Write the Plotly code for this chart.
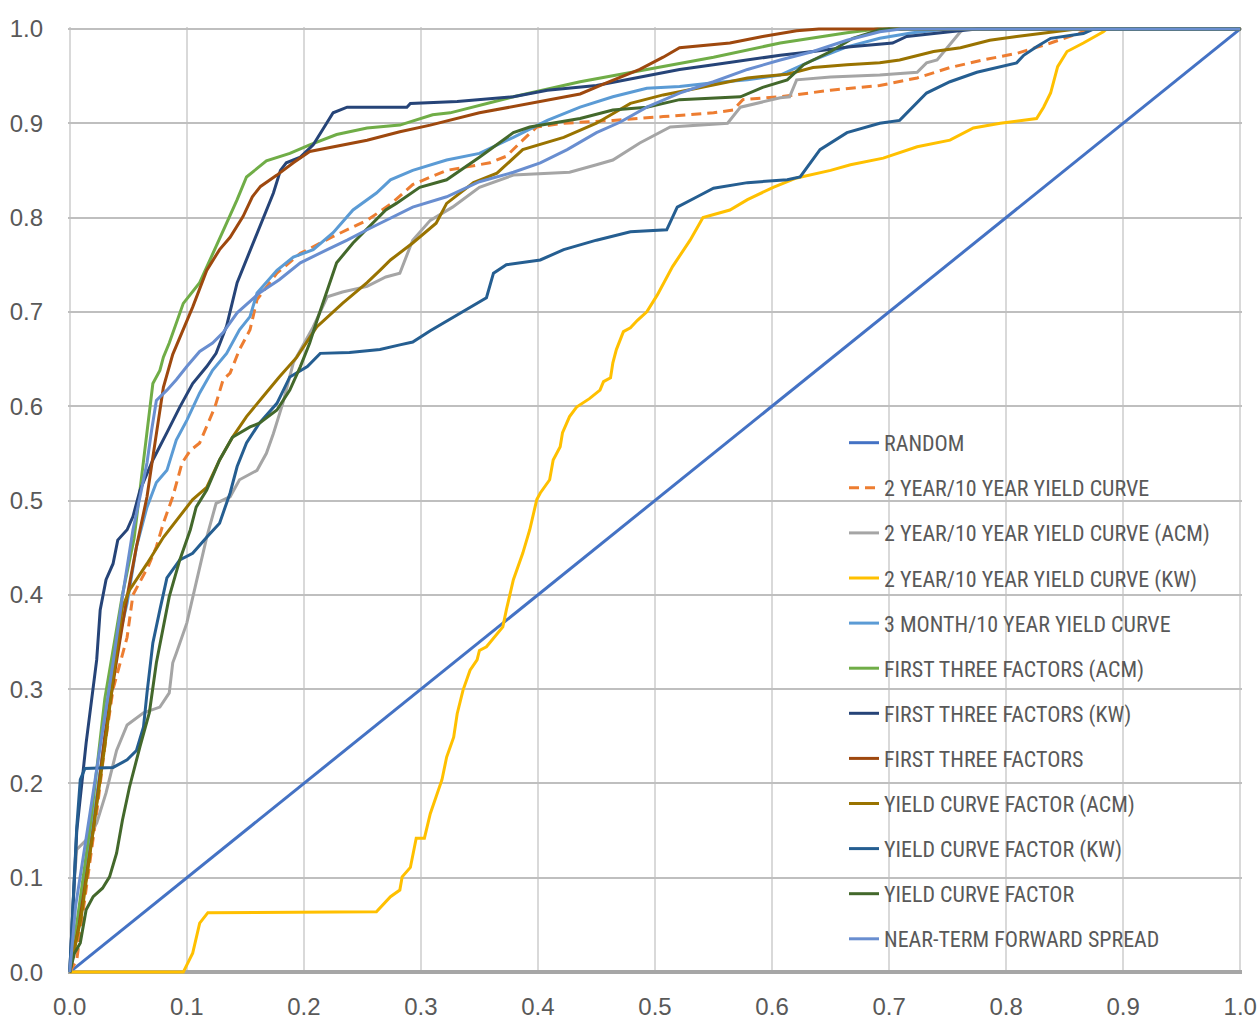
import plotly.graph_objects as go

# ---------------- data (x = false positive rate, y = true positive rate) ----------------
RANDOM = [(0, 0), (1, 1)]

YC_2Y10Y = [(0, 0), (0.006, 0.013), (0.012, 0.07), (0.023, 0.169), (0.030, 0.24), (0.037, 0.30),
            (0.049, 0.355), (0.054, 0.40), (0.067, 0.43), (0.074, 0.451), (0.080, 0.476), (0.088, 0.504),
            (0.096, 0.54), (0.103, 0.553), (0.111, 0.561), (0.117, 0.578), (0.124, 0.599), (0.131, 0.628),
            (0.137, 0.635), (0.145, 0.66), (0.154, 0.681), (0.160, 0.713), (0.177, 0.741), (0.197, 0.762),
            (0.225, 0.78), (0.254, 0.797), (0.275, 0.815), (0.293, 0.835), (0.322, 0.85), (0.359, 0.858),
            (0.373, 0.865), (0.387, 0.882), (0.399, 0.896), (0.422, 0.90), (0.464, 0.903), (0.507, 0.907),
            (0.550, 0.911), (0.567, 0.914), (0.575, 0.925), (0.607, 0.928), (0.650, 0.935), (0.692, 0.94),
            (0.724, 0.948), (0.752, 0.959), (0.780, 0.967), (0.809, 0.974), (0.838, 0.985), (0.866, 0.997),
            (0.875, 1.0), (1.0, 1.0)]

YC_2Y10Y_ACM = [(0, 0), (0.004, 0.10), (0.006, 0.13), (0.014, 0.14), (0.023, 0.158), (0.031, 0.19),
                (0.040, 0.235), (0.049, 0.262), (0.063, 0.275), (0.077, 0.281), (0.085, 0.296), (0.088, 0.328),
                (0.091, 0.338), (0.100, 0.37), (0.108, 0.413), (0.117, 0.461), (0.125, 0.497), (0.137, 0.504),
                (0.145, 0.522), (0.160, 0.532), (0.168, 0.55), (0.174, 0.571), (0.182, 0.603), (0.191, 0.646),
                (0.208, 0.684), (0.220, 0.716), (0.233, 0.721), (0.254, 0.727), (0.270, 0.737), (0.282, 0.741),
                (0.293, 0.776), (0.308, 0.797), (0.327, 0.811), (0.350, 0.832), (0.379, 0.845), (0.427, 0.848),
                (0.450, 0.856), (0.464, 0.861), (0.487, 0.879), (0.513, 0.896), (0.562, 0.90), (0.573, 0.917),
                (0.607, 0.927), (0.615, 0.928), (0.621, 0.946), (0.650, 0.949), (0.692, 0.951), (0.724, 0.954),
                (0.732, 0.964), (0.741, 0.967), (0.761, 0.997), (0.765, 1.0), (1.0, 1.0)]

YC_2Y10Y_KW = [(0, 0), (0.097, 0), (0.105, 0.02), (0.111, 0.052), (0.118, 0.063), (0.262, 0.064),
               (0.274, 0.08), (0.282, 0.087), (0.284, 0.101), (0.291, 0.111), (0.296, 0.142), (0.303, 0.142),
               (0.308, 0.168), (0.313, 0.186), (0.318, 0.204), (0.322, 0.228), (0.328, 0.249), (0.331, 0.274),
               (0.336, 0.299), (0.342, 0.32), (0.348, 0.331), (0.350, 0.341), (0.356, 0.345), (0.370, 0.366),
               (0.373, 0.384), (0.379, 0.416), (0.387, 0.444), (0.393, 0.469), (0.399, 0.501), (0.402, 0.508),
               (0.410, 0.522), (0.413, 0.543), (0.419, 0.557), (0.421, 0.572), (0.427, 0.589), (0.433, 0.599),
               (0.444, 0.608), (0.453, 0.617), (0.456, 0.626), (0.462, 0.63), (0.464, 0.646), (0.467, 0.66),
               (0.473, 0.679), (0.479, 0.683), (0.485, 0.691), (0.493, 0.70), (0.502, 0.718), (0.515, 0.748),
               (0.530, 0.776), (0.541, 0.80), (0.564, 0.808), (0.579, 0.819), (0.601, 0.832), (0.621, 0.842),
               (0.650, 0.85), (0.667, 0.856), (0.695, 0.863), (0.724, 0.875), (0.752, 0.882), (0.772, 0.895),
               (0.795, 0.90), (0.826, 0.905), (0.832, 0.917), (0.838, 0.932), (0.844, 0.96), (0.852, 0.976),
               (0.866, 0.985), (0.883, 0.997), (0.886, 1.0), (1.0, 1.0)]

YC_3M10Y = [(0, 0), (0.010, 0.07), (0.020, 0.16), (0.030, 0.25), (0.037, 0.328), (0.049, 0.391),
            (0.057, 0.451), (0.066, 0.493), (0.074, 0.519), (0.083, 0.532), (0.091, 0.564), (0.100, 0.585),
            (0.111, 0.614), (0.122, 0.638), (0.134, 0.656), (0.145, 0.681), (0.154, 0.695), (0.160, 0.72),
            (0.177, 0.744), (0.191, 0.758), (0.208, 0.766), (0.225, 0.784), (0.242, 0.808), (0.262, 0.826),
            (0.274, 0.84), (0.293, 0.85), (0.322, 0.861), (0.350, 0.868), (0.379, 0.885), (0.408, 0.903),
            (0.436, 0.917), (0.464, 0.928), (0.493, 0.937), (0.521, 0.939), (0.550, 0.943), (0.579, 0.946),
            (0.607, 0.951), (0.635, 0.967), (0.664, 0.981), (0.692, 0.99), (0.720, 0.996), (0.75, 1.0),
            (1.0, 1.0)]

F3_ACM = [(0, 0), (0.007, 0.06), (0.018, 0.16), (0.030, 0.29), (0.045, 0.40), (0.055, 0.46),
          (0.060, 0.511), (0.066, 0.575), (0.071, 0.624), (0.077, 0.638), (0.080, 0.652), (0.085, 0.667),
          (0.097, 0.709), (0.111, 0.731), (0.122, 0.762), (0.134, 0.794), (0.143, 0.819), (0.151, 0.843),
          (0.168, 0.860), (0.188, 0.868), (0.205, 0.877), (0.228, 0.888), (0.254, 0.895), (0.282, 0.898),
          (0.310, 0.909), (0.325, 0.911), (0.379, 0.928), (0.436, 0.944), (0.493, 0.957), (0.550, 0.97),
          (0.607, 0.985), (0.664, 0.996), (0.69, 1.0), (1.0, 1.0)]

F3_KW = [(0, 0), (0.003, 0.07), (0.006, 0.15), (0.014, 0.243), (0.020, 0.30), (0.023, 0.331),
         (0.026, 0.384), (0.031, 0.416), (0.037, 0.433), (0.041, 0.458), (0.049, 0.469), (0.054, 0.483),
         (0.060, 0.511), (0.071, 0.543), (0.083, 0.572), (0.094, 0.599), (0.105, 0.624), (0.117, 0.642),
         (0.125, 0.656), (0.134, 0.685), (0.143, 0.731), (0.151, 0.755), (0.160, 0.784), (0.168, 0.808),
         (0.174, 0.826), (0.180, 0.850), (0.185, 0.858), (0.197, 0.864), (0.208, 0.877), (0.216, 0.893),
         (0.225, 0.911), (0.237, 0.917), (0.288, 0.917), (0.291, 0.921), (0.331, 0.923), (0.379, 0.928),
         (0.408, 0.935), (0.450, 0.94), (0.487, 0.949), (0.521, 0.957), (0.550, 0.962), (0.579, 0.967),
         (0.607, 0.972), (0.635, 0.976), (0.667, 0.981), (0.703, 0.985), (0.715, 0.992), (0.752, 0.997),
         (0.775, 1.0), (1.0, 1.0)]

F3 = [(0, 0), (0.008, 0.05), (0.020, 0.15), (0.030, 0.25), (0.040, 0.33), (0.049, 0.398),
      (0.057, 0.451), (0.066, 0.504), (0.071, 0.546), (0.077, 0.599), (0.080, 0.62), (0.088, 0.655),
      (0.097, 0.681), (0.105, 0.705), (0.117, 0.744), (0.128, 0.766), (0.137, 0.779), (0.148, 0.801),
      (0.156, 0.822), (0.163, 0.833), (0.177, 0.845), (0.191, 0.858), (0.205, 0.87), (0.225, 0.875),
      (0.254, 0.882), (0.282, 0.891), (0.308, 0.898), (0.350, 0.911), (0.393, 0.921), (0.436, 0.931),
      (0.459, 0.943), (0.487, 0.957), (0.507, 0.97), (0.521, 0.98), (0.564, 0.985), (0.592, 0.992),
      (0.621, 0.998), (0.64, 1.0), (1.0, 1.0)]

YCF_ACM = [(0, 0), (0.010, 0.06), (0.020, 0.15), (0.030, 0.24), (0.038, 0.32), (0.045, 0.387),
           (0.051, 0.405), (0.066, 0.433), (0.080, 0.461), (0.094, 0.483), (0.105, 0.501), (0.117, 0.514),
           (0.128, 0.543), (0.139, 0.567), (0.151, 0.589), (0.165, 0.61), (0.179, 0.631), (0.194, 0.652),
           (0.211, 0.684), (0.233, 0.709), (0.254, 0.731), (0.265, 0.744), (0.274, 0.755), (0.293, 0.773),
           (0.313, 0.794), (0.322, 0.815), (0.345, 0.837), (0.365, 0.847), (0.387, 0.872), (0.422, 0.885),
           (0.450, 0.90), (0.479, 0.921), (0.507, 0.93), (0.536, 0.937), (0.579, 0.948), (0.613, 0.952),
           (0.635, 0.959), (0.664, 0.962), (0.692, 0.964), (0.709, 0.967), (0.738, 0.976), (0.761, 0.98),
           (0.786, 0.988), (0.809, 0.992), (0.838, 0.997), (0.86, 1.0), (1.0, 1.0)]

YCF_KW = [(0, 0), (0.003, 0.08), (0.006, 0.154), (0.009, 0.204), (0.013, 0.216), (0.037, 0.217),
          (0.049, 0.225), (0.057, 0.235), (0.063, 0.26), (0.066, 0.296), (0.071, 0.349), (0.077, 0.384),
          (0.083, 0.418), (0.094, 0.437), (0.105, 0.444), (0.117, 0.461), (0.128, 0.476), (0.137, 0.508),
          (0.143, 0.536), (0.151, 0.561), (0.162, 0.582), (0.177, 0.603), (0.188, 0.631), (0.203, 0.642),
          (0.214, 0.656), (0.239, 0.657), (0.265, 0.660), (0.282, 0.665), (0.293, 0.668), (0.308, 0.680),
          (0.322, 0.690), (0.336, 0.70), (0.356, 0.715), (0.362, 0.741), (0.373, 0.75), (0.402, 0.755),
          (0.422, 0.766), (0.450, 0.776), (0.479, 0.785), (0.510, 0.787), (0.519, 0.811), (0.536, 0.822),
          (0.550, 0.831), (0.579, 0.837), (0.613, 0.84), (0.624, 0.843), (0.641, 0.872), (0.664, 0.89),
          (0.692, 0.90), (0.709, 0.903), (0.718, 0.914), (0.732, 0.932), (0.752, 0.944), (0.775, 0.954),
          (0.809, 0.964), (0.815, 0.972), (0.826, 0.981), (0.838, 0.99), (0.866, 0.995), (0.875, 1.0),
          (1.0, 1.0)]

YCF = [(0, 0), (0.004, 0.02), (0.009, 0.031), (0.014, 0.066), (0.020, 0.08), (0.028, 0.089),
       (0.034, 0.101), (0.040, 0.126), (0.045, 0.161), (0.051, 0.196), (0.060, 0.239), (0.068, 0.275),
       (0.074, 0.328), (0.085, 0.398), (0.094, 0.437), (0.103, 0.469), (0.108, 0.493), (0.117, 0.511),
       (0.128, 0.543), (0.139, 0.567), (0.154, 0.578), (0.162, 0.582), (0.177, 0.596), (0.188, 0.617),
       (0.197, 0.642), (0.205, 0.667), (0.211, 0.69), (0.220, 0.723), (0.228, 0.752), (0.242, 0.773),
       (0.256, 0.79), (0.270, 0.808), (0.279, 0.815), (0.299, 0.832), (0.322, 0.84), (0.350, 0.864),
       (0.379, 0.89), (0.393, 0.896), (0.436, 0.905), (0.464, 0.914), (0.493, 0.917), (0.521, 0.925),
       (0.573, 0.928), (0.592, 0.938), (0.613, 0.946), (0.627, 0.962), (0.650, 0.976), (0.669, 0.99),
       (0.692, 0.999), (0.70, 1.0), (1.0, 1.0)]

NTFS = [(0, 0), (0.005, 0.07), (0.015, 0.15), (0.025, 0.23), (0.032, 0.29), (0.037, 0.328),
        (0.045, 0.398), (0.054, 0.469), (0.060, 0.504), (0.066, 0.54), (0.070, 0.575), (0.074, 0.606),
        (0.083, 0.617), (0.091, 0.628), (0.100, 0.642), (0.111, 0.658), (0.122, 0.667), (0.131, 0.678),
        (0.143, 0.699), (0.162, 0.72), (0.179, 0.734), (0.197, 0.752), (0.220, 0.766), (0.237, 0.776),
        (0.254, 0.787), (0.270, 0.797), (0.293, 0.811), (0.322, 0.822), (0.350, 0.838), (0.379, 0.848),
        (0.402, 0.858), (0.425, 0.872), (0.450, 0.89), (0.470, 0.901), (0.493, 0.917), (0.521, 0.932),
        (0.550, 0.944), (0.579, 0.957), (0.607, 0.967), (0.635, 0.976), (0.664, 0.988), (0.692, 0.997),
        (0.71, 1.0), (1.0, 1.0)]

SERIES_NAMES = ["RANDOM", "2 YEAR/10 YEAR YIELD CURVE", "2 YEAR/10 YEAR YIELD CURVE (ACM)",
                "2 YEAR/10 YEAR YIELD CURVE (KW)", "3 MONTH/10 YEAR YIELD CURVE",
                "FIRST THREE FACTORS (ACM)", "FIRST THREE FACTORS (KW)", "FIRST THREE FACTORS",
                "YIELD CURVE FACTOR (ACM)", "YIELD CURVE FACTOR (KW)", "YIELD CURVE FACTOR",
                "NEAR-TERM FORWARD SPREAD"]
SERIES_DATA = [RANDOM, YC_2Y10Y, YC_2Y10Y_ACM, YC_2Y10Y_KW, YC_3M10Y, F3_ACM, F3_KW, F3,
               YCF_ACM, YCF_KW, YCF, NTFS]
COLORS = ["#4472C4", "#ED7D31", "#A5A5A5", "#FFC000", "#5B9BD5", "#70AD47", "#264478",
          "#9E480E", "#997300", "#255E91", "#43682B", "#698ED0"]

TICKS = [i / 10 for i in range(11)]
TICK_TEXT = [f"{t:.1f}" for t in TICKS]

# ---------------- figure ----------------
fig = go.Figure()
for i, (name, pts, col) in enumerate(zip(SERIES_NAMES, SERIES_DATA, COLORS)):
    xs = [p[0] for p in pts]
    ys = [p[1] for p in pts]
    fig.add_trace(go.Scatter(
        x=xs, y=ys, mode="lines", name=name, legendgroup=f"g{i}",
        line=dict(color=col, width=3, dash="10px,6px" if i == 1 else "solid"),
        hoverinfo="skip",
    ))

fig.update_layout(
    width=1258, height=1021,
    margin=dict(l=68, r=16, t=27, b=47, pad=0, autoexpand=False),
    paper_bgcolor="white", plot_bgcolor="white",
    font=dict(family="Liberation Sans, Arial, sans-serif", color="#595959"),
    showlegend=True,
    legend=dict(
        x=0.661, y=0.583, xanchor="left", yanchor="top",
        bgcolor="rgba(0,0,0,0)", borderwidth=0,
        font=dict(family="Liberation Sans Narrow, Roboto Condensed, Liberation Sans, Arial",
                  size=22, color="#595959"),
        tracegroupgap=13.5, traceorder="grouped",
    ),
)
fig.update_xaxes(
    range=[-0.0015, 1.0015], tickmode="array", tickvals=TICKS, ticktext=TICK_TEXT,
    showgrid=True, gridcolor="#D9D9D9", gridwidth=2, zeroline=False, automargin=False,
    showline=False, ticks="", tickfont=dict(size=24, color="#595959"),
    ticklabelstandoff=16,
)
fig.update_yaxes(
    range=[-0.002, 1.002], tickmode="array", tickvals=TICKS, ticktext=TICK_TEXT,
    showgrid=True, gridcolor="#BFBFBF", gridwidth=2, zeroline=True, automargin=False,
    zerolinecolor="#A6A6A6", zerolinewidth=4,
    showline=False, ticks="", tickfont=dict(size=24, color="#595959"),
    ticklabelstandoff=24,
)

fig.write_html("out.html", config={"displayModeBar": False},
               post_script="document.body.style.margin='0';document.body.style.overflow='hidden';")
